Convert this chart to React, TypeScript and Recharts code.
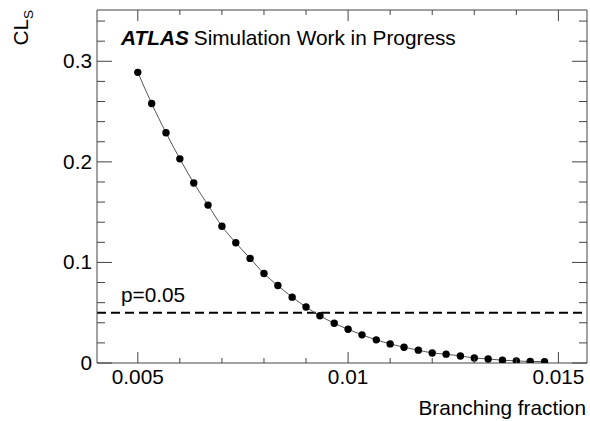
import { LineChart, Line, XAxis, YAxis, ReferenceLine } from "recharts";

const FONT = "'Liberation Sans', Arial, Helvetica, sans-serif";
const AXIS = "#444";
const FS = 20.8;

// branching fraction scan points
const branchingFraction = [
  0.005, 0.00533, 0.00567, 0.006, 0.00633, 0.00667, 0.007, 0.00733, 0.00767, 0.008,
  0.00833, 0.00867, 0.009, 0.00933, 0.00967, 0.01, 0.01033, 0.01067, 0.011, 0.01133,
  0.01167, 0.012, 0.01233, 0.01267, 0.013, 0.01333, 0.01367, 0.014, 0.01433, 0.01467,
];
const clsValues = [
  0.289, 0.258, 0.229, 0.203, 0.179, 0.157, 0.136, 0.1195, 0.104, 0.089,
  0.077, 0.0655, 0.0557, 0.047, 0.0395, 0.0335, 0.028, 0.023, 0.019, 0.0156,
  0.0128, 0.01, 0.0088, 0.007, 0.005, 0.004, 0.0028, 0.0021, 0.0015, 0.0014,
];

const xTicks = [0.005, 0.006, 0.007, 0.008, 0.009, 0.01, 0.011, 0.012, 0.013, 0.014, 0.015];
const xMajorTicks = [0.005, 0.01, 0.015];
const xTickLabels = ["0.005", "0.01", "0.015"];
const yTicks = [0, 0.02, 0.04, 0.06, 0.08, 0.1, 0.12, 0.14, 0.16, 0.18, 0.2, 0.22, 0.24, 0.26, 0.28, 0.3, 0.32, 0.34];
const yMajorTicks = [0, 0.1, 0.2, 0.3];
const yTickLabels = ["0", "0.1", "0.2", "0.3"];
const pValue = 0.05;
const pLabel = "p=0.05";

const xDomain = [0.00403, 0.01568];
const yDomain = [0, 0.351];

const data = branchingFraction.map((bf, i) => ({ bf, cls: clsValues[i] }));

function XTick(props: any) {
  const { x, y, payload, side } = props;
  const idx = xMajorTicks.indexOf(payload.value);
  const len = idx >= 0 ? 11 : 5;
  const dir = side === "top" ? 1 : -1;
  return (
    <g>
      <line x1={x} x2={x} y1={y} y2={y + dir * len} stroke={AXIS} strokeWidth={1} />
      {side === "bottom" && idx >= 0 && (
        <text x={x} y={y + 21} textAnchor="middle" fontSize={FS} fontFamily={FONT} fill="#000">
          {xTickLabels[idx]}
        </text>
      )}
    </g>
  );
}

function YTick(props: any) {
  const { x, y, payload, side } = props;
  const idx = yMajorTicks.indexOf(payload.value);
  const len = idx >= 0 ? 15 : 8;
  const dir = side === "right" ? -1 : 1;
  return (
    <g>
      <line x1={x} x2={x + dir * len} y1={y} y2={y} stroke={AXIS} strokeWidth={1} />
      {side === "left" && idx >= 0 && (
        <text x={x - 5} y={y + 7} textAnchor="end" fontSize={FS} fontFamily={FONT} fill="#000">
          {yTickLabels[idx]}
        </text>
      )}
    </g>
  );
}

function PLabel(props: any) {
  const vb = props.viewBox || {};
  return (
    <text x={vb.x + 24} y={vb.y - 11} fontSize={FS} fontFamily={FONT} fill="#000">
      {pLabel}
    </text>
  );
}

export default function App() {
  return (
    <div style={{ position: "absolute", left: 0, top: 0, width: 590, height: 421, background: "#fff" }}>
      <LineChart width={590} height={421} data={data} margin={{ top: 9, right: 2, left: 0, bottom: 0 }}>
        <XAxis
          dataKey="bf"
          type="number"
          domain={xDomain}
          allowDataOverflow
          ticks={xTicks}
          interval={0}
          height={58}
          tickSize={0}
          tickMargin={0}
          tickLine={false}
          axisLine={{ stroke: AXIS }}
          tick={(p: any) => <XTick {...p} side="bottom" />}
        />
        <XAxis
          xAxisId="top"
          orientation="top"
          dataKey="bf"
          type="number"
          domain={xDomain}
          allowDataOverflow
          ticks={xTicks}
          interval={0}
          height={1}
          tickSize={0}
          tickMargin={0}
          tickLine={false}
          axisLine={{ stroke: AXIS }}
          tick={(p: any) => <XTick {...p} side="top" />}
        />
        <YAxis
          type="number"
          domain={yDomain}
          allowDataOverflow
          ticks={yTicks}
          interval={0}
          width={97}
          tickSize={0}
          tickMargin={0}
          tickLine={false}
          axisLine={{ stroke: AXIS }}
          tick={(p: any) => <YTick {...p} side="left" />}
        />
        <YAxis
          yAxisId="right"
          orientation="right"
          type="number"
          domain={yDomain}
          allowDataOverflow
          ticks={yTicks}
          interval={0}
          width={1}
          tickSize={0}
          tickMargin={0}
          tickLine={false}
          axisLine={{ stroke: AXIS }}
          tick={(p: any) => <YTick {...p} side="right" />}
        />
        <ReferenceLine
          y={pValue}
          stroke="#000"
          strokeWidth={2}
          strokeDasharray="9 5"
          label={<PLabel />}
        />
        <Line
          dataKey="cls"
          type="monotone"
          stroke="#555"
          strokeWidth={1}
          dot={{ r: 3.7, fill: "#000", stroke: "#000", strokeWidth: 0 }}
          isAnimationActive={false}
        />
      </LineChart>
      <svg
        width={590}
        height={421}
        style={{ position: "absolute", left: 0, top: 0, pointerEvents: "none" }}
      >
        <text x={121} y={45} fontSize={FS} fontFamily={FONT} fill="#000">
          <tspan fontWeight="bold" fontStyle="italic">ATLAS</tspan>
          <tspan dx={5}>Simulation Work in Progress</tspan>
        </text>
        <text transform="translate(28, 10) rotate(-90)" textAnchor="end" fontSize={FS} fontFamily={FONT} fill="#000">
          CL<tspan fontSize={13.5} dy={5}>S</tspan>
        </text>
        <text x={586} y={415} textAnchor="end" fontSize={FS} fontFamily={FONT} fill="#000">
          Branching fraction
        </text>
      </svg>
    </div>
  );
}
